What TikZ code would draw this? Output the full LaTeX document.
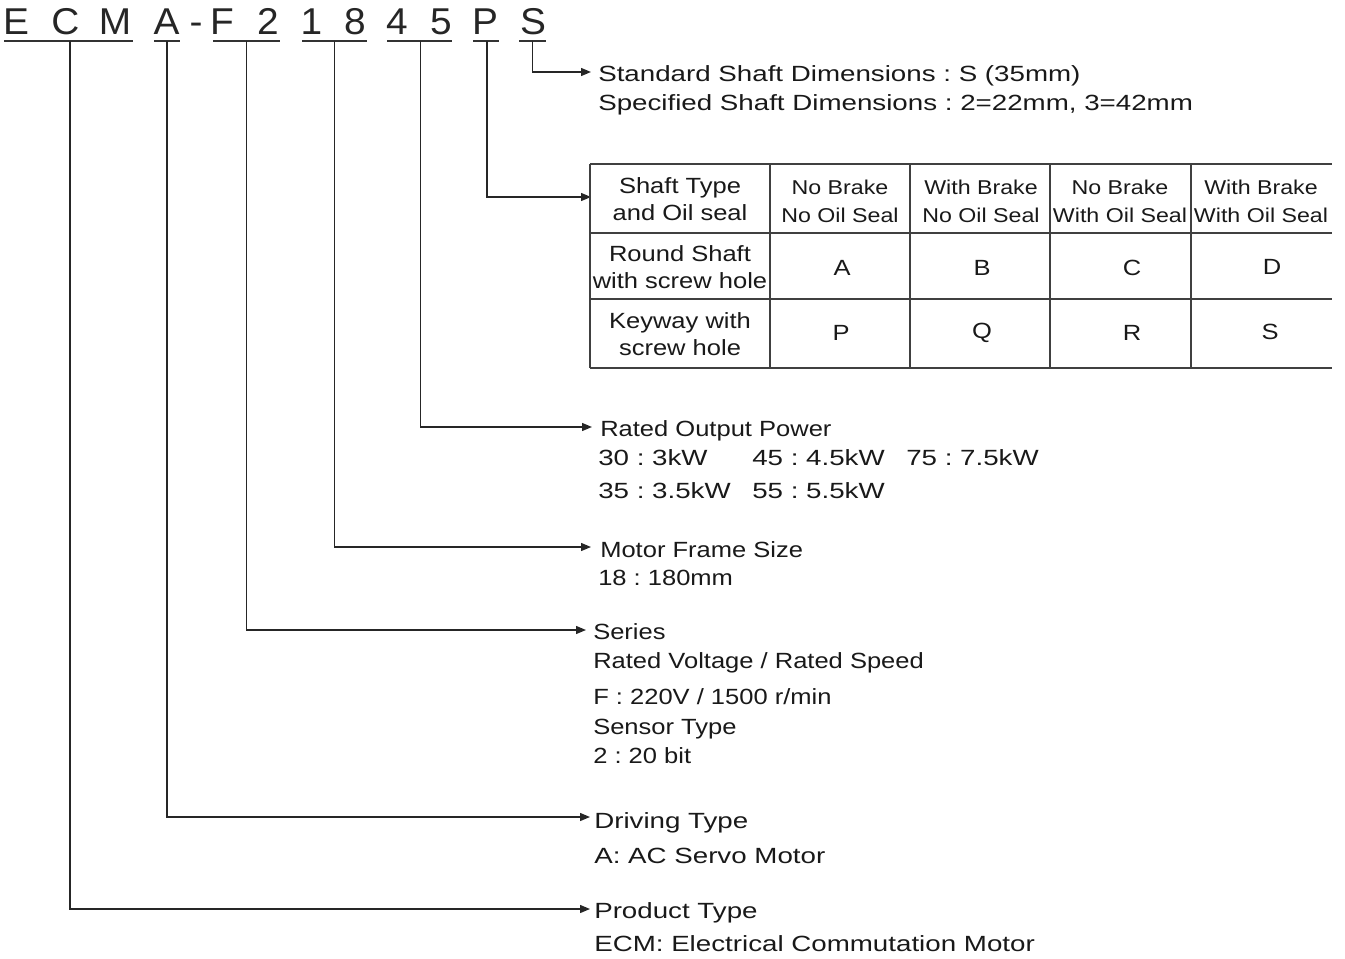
\documentclass[tikz,border=0pt]{standalone}
\usepackage{fontspec}
\setmainfont{Liberation Sans}[FakeStretch=1.16]
\newfontfamily\widef{Liberation Sans}[FakeStretch=1.26]
\newfontfamily\titlef{Liberation Sans}[FakeStretch=1.04]
\usetikzlibrary{arrows.meta}
\frenchspacing
\begin{document}
\begin{tikzpicture}[x=0.75pt,y=-0.75pt,
  conn/.style={line width=1pt,draw=black!85},
  arr/.style={conn,-{Triangle[length=7.5pt,width=6pt]}},
  uline/.style={line width=1pt,draw=black!80},
  grid/.style={line width=1pt,draw=black!75},
  ttl/.style={font=\titlef\fontsize{28}{28}\selectfont,anchor=base,inner sep=0pt,text=black!85},
  lbl/.style={font=\fontsize{16.5}{16.5}\selectfont,anchor=base west,inner sep=0pt,text=black!90},
  wlbl/.style={font=\widef\fontsize{16.5}{16.5}\selectfont,anchor=base west,inner sep=0pt,text=black!90},
  hcell/.style={font=\fontsize{15}{15}\selectfont,align=center,inner sep=0pt,text=black!90},
  bcell/.style={font=\fontsize{16.5}{16.5}\selectfont,align=center,inner sep=0pt,text=black!90}]
\useasboundingbox (0,0) rectangle (1345,959);
% title letters
\node[ttl] (lE) at (16,35) {E};
\node[ttl] (lC) at (65.5,35) {C};
\node[ttl] (lM) at (115,35) {M};
\node[ttl] (lA) at (166.5,35) {A};
\node[ttl] (ldash) at (196,35) {-};
\node[ttl] (lF) at (222,35) {F};
\node[ttl] (l2) at (268,35) {2};
\node[ttl] (l1) at (311.5,35) {1};
\node[ttl] (l8) at (355,35) {8};
\node[ttl] (l4) at (397,35) {4};
\node[ttl] (l5) at (441,35) {5};
\node[ttl] (lP) at (485,35) {P};
\node[ttl] (lS) at (533,35) {S};
% underlines
\draw[uline] (4,41) -- (133,41);
\draw[uline] (154,41) -- (180,41);
\draw[uline] (213,41) -- (280,41);
\draw[uline] (302,41) -- (367,41);
\draw[uline] (387,41) -- (452,41);
\draw[uline] (473,41) -- (499,41);
\draw[uline] (519,41) -- (546,41);
% start points
\coordinate (sECM) at (70,41);
\coordinate (sA) at (167,41);
\coordinate (sF) at (246.5,41);
\coordinate (s18) at (334.5,41);
\coordinate (s45) at (420.5,41);
\coordinate (sP) at (487,41);
\coordinate (sS) at (532.5,41);
% end points
\coordinate (eS) at (591,72);
\coordinate (eP) at (591,197);
\coordinate (e45) at (592,427);
\coordinate (e18) at (591,547);
\coordinate (eF) at (586,630);
\coordinate (eA) at (590,817);
\coordinate (eECM) at (590,909);
\draw[arr] (sS) |- (eS);
\draw[arr] (sP) |- (eP);
\draw[arr] (s45) |- (e45);
\draw[arr] (s18) |- (e18);
\draw[arr] (sF) |- (eF);
\draw[arr] (sA) |- (eA);
\draw[arr] (sECM) |- (eECM);
% shaft dimensions
\node[wlbl] (tStd) at (598,82) {Standard Shaft Dimensions : S (35mm)};
\node[wlbl] (tSpec) at (598,111) {Specified Shaft Dimensions : 2=22mm, 3=42mm};
% table
\draw[grid] (590,164) -- (1332,164);
\draw[grid] (590,233) -- (1332,233);
\draw[grid] (590,299) -- (1332,299);
\draw[grid] (590,368) -- (1332,368);
\foreach \xx in {590,770,910,1050,1191} \draw[grid] (\xx,164) -- (\xx,368);
\node[bcell] (h0) at (680,199) {Shaft Type\\[4pt]and Oil seal};
\node[hcell] (h1) at (840,201) {No Brake\\[6pt]No Oil Seal};
\node[hcell] (h2) at (981,201) {With Brake\\[6pt]No Oil Seal};
\node[hcell] (h3) at (1120,201) {No Brake\\[6pt]With Oil Seal};
\node[hcell] (h4) at (1261,201) {With Brake\\[6pt]With Oil Seal};
\node[bcell] (r1) at (680,267) {Round Shaft\\[4pt]with screw hole};
\node[bcell] (r2) at (680,334) {Keyway with\\[4pt]screw hole};
\node[bcell] (cA) at (842,268) {A};
\node[bcell] (cB) at (982,268) {B};
\node[bcell] (cC) at (1132,268) {C};
\node[bcell] (cD) at (1272,267) {D};
\node[bcell] (cP) at (841,333) {P};
\node[bcell] (cQ) at (982,333) {Q};
\node[bcell] (cR) at (1132,333) {R};
\node[bcell] (cS) at (1270,332) {S};
% rated output power
\node[lbl] (tRated) at (600,436) {Rated Output Power};
\node[wlbl] (t30) at (598,465) {30 : 3kW};
\node[wlbl] (t45) at (752,465) {45 : 4.5kW};
\node[wlbl] (t75) at (906,465) {75 : 7.5kW};
\node[wlbl] (t35) at (598,498) {35 : 3.5kW};
\node[wlbl] (t55) at (752,498) {55 : 5.5kW};
% frame size
\node[lbl] (tFrame) at (600,557) {Motor Frame Size};
\node[lbl] (t18) at (598,585) {18 : 180mm};
% series
\node[lbl] (tSeries) at (593,639) {Series};
\node[lbl] (tVolt) at (593,668) {Rated Voltage / Rated Speed};
\node[lbl] (tF) at (593,704) {F : 220V / 1500 r/min};
\node[lbl] (tSensor) at (593,734) {Sensor Type};
\node[lbl] (t2) at (593,763) {2 : 20 bit};
% driving
\node[wlbl] (tDrive) at (594,828) {Driving Type};
\node[wlbl] (tAC) at (594,863) {A: AC Servo Motor};
% product
\node[wlbl] (tProd) at (594,918) {Product Type};
\node[wlbl] (tECM) at (594,951) {ECM: Electrical Commutation Motor};
\end{tikzpicture}
\end{document}
